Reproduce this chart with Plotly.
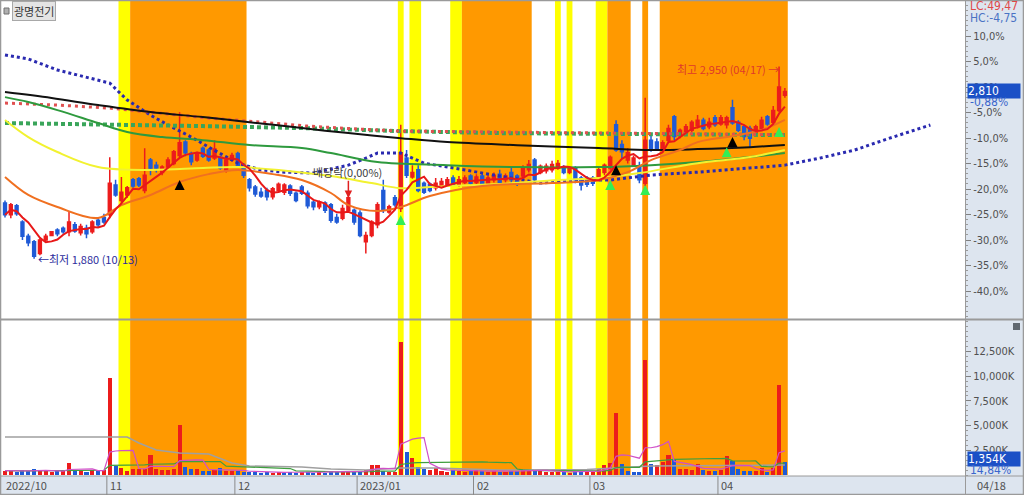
import plotly.graph_objects as go
import pandas as pd

# ---------------- data ----------------
dates = (
    ["2022-10-%02d" % d for d in [5, 6, 7, 11, 12, 13, 14, 17, 18, 19, 20, 21, 24, 25, 26, 27, 28, 31]] +
    ["2022-11-%02d" % d for d in [1, 2, 3, 4, 7, 8, 9, 10, 11, 14, 15, 16, 17, 18, 21, 22, 23, 24, 25, 28, 29, 30]] +
    ["2022-12-%02d" % d for d in [1, 2, 5, 6, 7, 8, 9, 12, 13, 14, 15, 16, 19, 20, 21, 22, 23, 26, 27, 28, 29]] +
    ["2023-01-%02d" % d for d in [2, 3, 4, 5, 6, 9, 10, 11, 12, 13, 16, 17, 18, 19, 20, 25, 26, 27, 30, 31]] +
    ["2023-02-%02d" % d for d in [1, 2, 3, 6, 7, 8, 9, 10, 13, 14, 15, 16, 17, 20, 21, 22, 23, 24, 27, 28]] +
    ["2023-03-%02d" % d for d in [2, 3, 6, 7, 8, 9, 10, 13, 14, 15, 16, 17, 20, 21, 22, 23, 24, 27, 28, 29, 30, 31]] +
    ["2023-04-%02d" % d for d in [3, 4, 5, 6, 7, 10, 11, 12, 13, 14, 17, 18]]
)

opens = [2190, 2125, 2175, 2085, 2005, 1975, 1910, 1985, 2010, 2040, 2050, 2030, 2070, 2025, 2050, 2030, 2095, 2110,
         2125, 2290, 2205, 2235, 2320, 2325, 2260, 2430, 2400, 2360, 2390, 2410, 2455, 2530, 2465, 2430, 2495, 2485, 2440, 2445, 2375, 2430,
         2465, 2400, 2320, 2280, 2250, 2260, 2225, 2260, 2250, 2285, 2245, 2280, 2245, 2195, 2170, 2190, 2180, 2110, 2105, 2150, 2150,
         2135, 1975, 2010, 2070, 2260, 2140, 2220, 2160, 2440, 2335, 2375, 2300, 2295, 2275, 2285, 2295, 2330, 2290, 2305, 2340,
         2305, 2340, 2300, 2320, 2350, 2320, 2360, 2340, 2340, 2375, 2430, 2360, 2370, 2375, 2385, 2390, 2360, 2385, 2330, 2330,
         2330, 2335, 2360, 2385, 2625, 2515, 2430, 2400, 2390, 2300, 2540, 2530, 2495, 2540, 2670, 2565, 2580, 2595, 2620, 2650, 2615, 2665,
         2630, 2625, 2720, 2640, 2615, 2605, 2580, 2605, 2670, 2640, 2705, 2790]
highs = [2205, 2190, 2185, 2095, 2020, 1985, 1995, 2020, 2035, 2050, 2060, 2140, 2085, 2075, 2070, 2095, 2110, 2130,
         2445, 2320, 2335, 2285, 2330, 2335, 2495, 2440, 2420, 2400, 2445, 2485, 2695, 2540, 2475, 2475, 2505, 2495, 2540, 2455, 2445, 2470,
         2475, 2410, 2330, 2290, 2275, 2275, 2280, 2305, 2300, 2295, 2255, 2290, 2260, 2205, 2205, 2200, 2190, 2130, 2180, 2240, 2160,
         2150, 2030, 2095, 2195, 2320, 2180, 2235, 2625, 2485, 2400, 2400, 2310, 2305, 2330, 2330, 2335, 2345, 2340, 2345, 2350,
         2350, 2355, 2345, 2360, 2375, 2355, 2385, 2350, 2400, 2430, 2440, 2405, 2410, 2425, 2430, 2400, 2395, 2395, 2340, 2340,
         2340, 2385, 2410, 2455, 2650, 2540, 2495, 2455, 2420, 2775, 2570, 2550, 2540, 2625, 2680, 2605, 2630, 2650, 2680, 2665, 2665, 2680,
         2680, 2675, 2765, 2650, 2625, 2620, 2625, 2670, 2680, 2730, 2950, 2830]
lows = [2110, 2105, 2120, 1985, 1950, 1880, 1900, 1975, 2005, 2005, 2020, 2005, 2025, 2010, 1995, 2020, 2055, 2075,
        2105, 2225, 2180, 2220, 2275, 2280, 2245, 2345, 2360, 2345, 2375, 2400, 2445, 2450, 2400, 2420, 2440, 2420, 2430, 2375, 2360, 2420,
        2385, 2330, 2255, 2225, 2220, 2205, 2210, 2250, 2235, 2230, 2195, 2235, 2160, 2150, 2155, 2135, 2080, 2075, 2095, 2140, 2070,
        2000, 1910, 2000, 2050, 2135, 2130, 2170, 2140, 2330, 2325, 2250, 2240, 2250, 2260, 2275, 2285, 2285, 2280, 2295, 2290,
        2295, 2290, 2290, 2305, 2290, 2305, 2300, 2285, 2330, 2360, 2305, 2350, 2355, 2360, 2375, 2350, 2350, 2300, 2260, 2280,
        2285, 2325, 2345, 2375, 2475, 2440, 2410, 2390, 2300, 2285, 2475, 2485, 2485, 2530, 2540, 2550, 2570, 2585, 2605, 2595, 2600, 2615,
        2620, 2605, 2625, 2585, 2540, 2500, 2570, 2595, 2620, 2630, 2695, 2775]
closes = [2125, 2180, 2130, 2005, 1970, 1895, 1985, 2005, 2030, 2020, 2030, 2085, 2035, 2060, 2020, 2085, 2070, 2085,
          2300, 2235, 2250, 2275, 2285, 2290, 2345, 2385, 2385, 2390, 2430, 2475, 2525, 2470, 2420, 2465, 2450, 2430, 2490, 2385, 2430, 2455,
          2400, 2345, 2275, 2240, 2230, 2225, 2270, 2295, 2290, 2245, 2205, 2245, 2175, 2170, 2195, 2150, 2095, 2085, 2160, 2220, 2085,
          2010, 2010, 2085, 2180, 2150, 2170, 2180, 2470, 2345, 2360, 2260, 2250, 2260, 2300, 2310, 2320, 2295, 2320, 2330, 2300,
          2335, 2300, 2330, 2345, 2305, 2340, 2320, 2295, 2385, 2405, 2320, 2395, 2395, 2405, 2410, 2360, 2385, 2320, 2290, 2295,
          2300, 2375, 2400, 2445, 2485, 2475, 2470, 2440, 2320, 2540, 2485, 2495, 2525, 2605, 2560, 2595, 2615, 2640, 2650, 2605, 2640, 2625,
          2665, 2665, 2635, 2595, 2560, 2550, 2615, 2650, 2630, 2705, 2835, 2810]
volumes_k = [450, 380, 350, 500, 420, 600, 480, 380, 350, 420, 380, 1250, 520, 400, 350, 550, 420, 480,
             9800, 900, 700, 450, 600, 650, 650, 2000, 600, 500, 550, 600, 5050, 800, 600, 650, 450, 400, 550, 700, 450, 400,
             400, 350, 300, 300, 250, 300, 250, 300, 250, 300, 250, 300, 350, 250, 300, 250, 400, 300, 350, 400, 300,
             350, 500, 1000, 1050, 450, 300, 350, 13500, 2300, 1700, 800, 600, 500, 700, 400, 350, 500, 450, 350, 400,
             500, 400, 350, 400, 300, 350, 450, 400, 600, 500, 450, 400, 350, 300, 350, 300, 250, 400, 350, 300,
             350, 600, 1000, 1200, 6300, 1100, 400, 350, 350, 11600, 1100, 1000, 1300, 2000, 1500, 600, 600, 550, 1100, 500, 450, 450,
             500, 1900, 1400, 600, 450, 400, 450, 700, 350, 700, 9100, 1354]

# moving-average / cloud lines (index, price)
ma20_idx = [0, 4, 9, 16, 20, 25, 30, 35, 40, 46, 51, 56, 59, 64, 68, 73, 82, 94, 102, 107, 111, 116, 119, 125, 130, 134]
ma20_val = [2335, 2235, 2168, 2107, 2179, 2235, 2307, 2351, 2374, 2351, 2318, 2246, 2179, 2146, 2168, 2229, 2285, 2301, 2318, 2362, 2429, 2485, 2529, 2563, 2596, 2652]
ma60_idx = [0, 4, 9, 16, 25, 34, 40, 47, 56, 63, 68, 76, 85, 95, 102, 109, 119, 128, 134]
ma60_val = [2652, 2557, 2474, 2390, 2374, 2385, 2390, 2374, 2340, 2301, 2273, 2285, 2296, 2318, 2329, 2357, 2412, 2446, 2485]
ma120_idx = [0, 4, 9, 16, 21, 27, 34, 42, 51, 56, 64, 76, 88, 102, 111, 119, 128, 134]
ma120_val = [2779, 2752, 2707, 2635, 2585, 2557, 2540, 2513, 2496, 2468, 2418, 2401, 2390, 2390, 2401, 2418, 2446, 2468]
ma240_idx = [0, 8, 16, 25, 34, 42, 51, 59, 68, 76, 88, 102, 111, 119, 128, 134]
ma240_val = [2807, 2774, 2735, 2696, 2668, 2640, 2607, 2579, 2551, 2529, 2512, 2496, 2485, 2490, 2501, 2513]
reddot_idx = [0, 9, 18, 27, 35, 44, 52, 61, 68, 85, 102, 113, 134]
reddot_val = [2746, 2735, 2718, 2690, 2663, 2640, 2618, 2601, 2590, 2585, 2579, 2574, 2570]
greendot_idx = [0, 16, 34, 51, 68, 85, 102, 119, 134]
greendot_val = [2635, 2629, 2618, 2607, 2590, 2579, 2574, 2568, 2568]
cloud_idx = [0, 4, 9, 18, 21, 25, 28, 32, 35, 40, 44, 48, 53, 59, 62, 64, 68, 72, 79, 85, 92, 99, 104, 111, 119, 128, 134, 140, 146, 152, 159]
cloud_val = [3013, 2991, 2930, 2857, 2763, 2679, 2624, 2557, 2501, 2412, 2374, 2362, 2357, 2401, 2440, 2468, 2468, 2412, 2374, 2340, 2301, 2318, 2318, 2346, 2362, 2385, 2401, 2440, 2485, 2551, 2624]
volgray_idx = [0, 21, 23, 26, 30, 35, 39, 42, 51, 56, 62, 68, 74, 85, 100, 111, 134]
volgray_val = [3850, 3850, 3240, 2530, 2230, 2130, 1210, 910, 810, 610, 510, 700, 710, 510, 550, 900, 1000]

# signal shading (first index, last index, colour)
bands = [(20, 21, "#ffff00"), (22, 41, "#ff9900"), (68, 68, "#ffff00"), (70, 71, "#ffff00"),
         (77, 78, "#ffff00"), (79, 90, "#ff9900"), (95, 95, "#ffff00"), (97, 97, "#ffff00"),
         (102, 103, "#ffff00"), (104, 107, "#ff9900"), (110, 110, "#ff9900"), (113, 134, "#ff9900")]

black_sig_idx = [30, 105, 125]
black_sig_val = [2318, 2401, 2557]
green_sig_idx = [68, 104, 110, 124, 133]
green_sig_val = [2123, 2318, 2290, 2501, 2613]

month_ticks = [(0, "2022/10"), (18, "11"), (40, "12"), (61, "2023/01"), (81, "02"), (101, "03"), (123, "04")]
base_price = 2835
pct_ticks = [10, 5, 0, -5, -10, -15, -20, -25, -30, -35, -40]
vol_ticks = [2500, 5000, 7500, 10000, 12500]

# ---------------- figure ----------------
idx = list(range(len(closes)))
W, H = 1024, 495
def py(p):
    return 1 - p / H

RED = "#ec1c1c"
BLUE = "#1f5ad6"
cl = pd.Series(closes)
ma5 = cl.rolling(5, min_periods=1).mean()
vol = pd.Series(volumes_k)
vma5 = vol.rolling(5, min_periods=1).mean()
vma20 = vol.rolling(20, min_periods=1).mean()
vcolors = [RED if i == 0 or closes[i] >= closes[i - 1] else BLUE for i in idx]

fig = go.Figure()

fig.add_trace(go.Scatter(x=cloud_idx, y=cloud_val, mode="lines", line=dict(color="#2a2ab0", width=3, dash="3px,3px"), xaxis="x", yaxis="y"))
fig.add_trace(go.Scatter(x=greendot_idx, y=greendot_val, mode="lines", line=dict(color="#3aa55a", width=4, dash="4px,3px"), xaxis="x", yaxis="y"))
fig.add_trace(go.Scatter(x=reddot_idx, y=reddot_val, mode="lines", line=dict(color="#e05050", width=3, dash="3px,4px"), xaxis="x", yaxis="y"))
fig.add_trace(go.Scatter(x=ma240_idx, y=ma240_val, mode="lines", line=dict(color="#111111", width=2, shape="spline"), xaxis="x", yaxis="y"))
fig.add_trace(go.Scatter(x=ma120_idx, y=ma120_val, mode="lines", line=dict(color="#2e9a3e", width=2, shape="spline"), xaxis="x", yaxis="y"))
fig.add_trace(go.Scatter(x=ma60_idx, y=ma60_val, mode="lines", line=dict(color="#f2f230", width=2, shape="spline"), xaxis="x", yaxis="y"))
fig.add_trace(go.Scatter(x=ma20_idx, y=ma20_val, mode="lines", line=dict(color="#f07020", width=2, shape="spline"), xaxis="x", yaxis="y"))

fig.add_trace(go.Candlestick(
    x=idx, open=opens, high=highs, low=lows, close=closes,
    increasing=dict(line=dict(color=RED, width=1.5), fillcolor=RED),
    decreasing=dict(line=dict(color=BLUE, width=1.5), fillcolor=BLUE),
    whiskerwidth=0, xaxis="x", yaxis="y"))
fig.add_trace(go.Scatter(x=idx, y=ma5, mode="lines", line=dict(color="#e81818", width=2), xaxis="x", yaxis="y"))

fig.add_trace(go.Scatter(x=black_sig_idx, y=black_sig_val, mode="markers",
                         marker=dict(symbol="arrow-up", size=10, color="#000000"), xaxis="x", yaxis="y"))
fig.add_trace(go.Scatter(x=green_sig_idx, y=green_sig_val, mode="markers",
                         marker=dict(symbol="arrow-up", size=10, color="#33ee55"), xaxis="x", yaxis="y"))

# volume
fig.add_trace(go.Bar(x=idx, y=volumes_k, marker=dict(color=vcolors, line=dict(width=0)), width=0.7, xaxis="x2", yaxis="y2"))
fig.add_trace(go.Scatter(x=volgray_idx, y=volgray_val, mode="lines", line=dict(color="#a0a0a0", width=1.5), xaxis="x2", yaxis="y2"))
fig.add_trace(go.Scatter(x=idx, y=vma20, mode="lines", line=dict(color="#3f9f3f", width=1.2), xaxis="x2", yaxis="y2"))
fig.add_trace(go.Scatter(x=idx, y=vma5, mode="lines", line=dict(color="#d050c8", width=1.2), xaxis="x2", yaxis="y2"))

xr = [-0.515, 164.95]
x_dom = [2 / W, 965 / W]
tick_font = dict(family="Liberation Sans Narrow, DejaVu Sans Condensed, sans-serif", size=11, color="#505050")

fig.update_layout(
    width=W, height=H, margin=dict(l=0, r=0, t=0, b=0),
    paper_bgcolor="white", plot_bgcolor="white", showlegend=False, bargap=0,
    xaxis=dict(domain=x_dom, range=xr, anchor="y", showticklabels=False, showgrid=False, zeroline=False,
               rangeslider=dict(visible=False), fixedrange=True),
    xaxis2=dict(domain=x_dom, range=xr, anchor="y2", matches="x", showticklabels=False, showgrid=False, zeroline=False),
    yaxis=dict(domain=[py(318), py(2)], range=[1551, 3308], side="right", anchor="x",
               tickmode="array", tickvals=[base_price * (1 + p / 100) for p in pct_ticks],
               ticktext=[("%.1f%%" % p).replace(".", ",") for p in pct_ticks],
               ticks="outside", ticklen=5, tickcolor="#808080", tickfont=tick_font,
               minor=dict(tickmode="linear", tick0=base_price, dtick=base_price / 100, ticks="outside", ticklen=2, tickcolor="#9a9a9a"),
               showgrid=False, zeroline=False),
    yaxis2=dict(domain=[py(475), py(321)], range=[0, 15587], side="right", anchor="x2",
                tickmode="array", tickvals=vol_ticks, ticktext=["{:,}K".format(v) for v in vol_ticks],
                ticks="outside", ticklen=5, tickcolor="#808080", tickfont=tick_font,
                minor=dict(tickmode="linear", tick0=0, dtick=500, ticks="outside", ticklen=2, tickcolor="#9a9a9a"),
                showgrid=False, zeroline=False),
)

shapes = []
panel_bg = "#dde5ef"
shapes.append(dict(type="rect", xref="paper", yref="paper", x0=965 / W, x1=1, y0=0, y1=1, fillcolor=panel_bg, line=dict(width=0), layer="below"))
shapes.append(dict(type="rect", xref="paper", yref="paper", x0=0, x1=1, y0=0, y1=py(476), fillcolor=panel_bg, line=dict(width=0), layer="below"))
for a, b, c in bands:
    shapes.append(dict(type="rect", xref="x", yref="paper", x0=a - 0.5, x1=b + 0.5, y0=py(475), y1=py(1),
                       fillcolor=c, line=dict(width=0), layer="below"))
# panel separators / frame
shapes.append(dict(type="line", xref="paper", yref="paper", x0=0, x1=1, y0=py(319.5), y1=py(319.5), line=dict(color="#9a9a9a", width=2)))
shapes.append(dict(type="line", xref="paper", yref="paper", x0=0, x1=1, y0=py(476), y1=py(476), line=dict(color="#9a9a9a", width=1)))
shapes.append(dict(type="line", xref="paper", yref="paper", x0=965.5 / W, x1=965.5 / W, y0=0, y1=1, line=dict(color="#9a9a9a", width=1)))
shapes.append(dict(type="rect", xref="paper", yref="paper", x0=0.0005, x1=0.9995, y0=0.001, y1=0.999, line=dict(color="#9a9a9a", width=1.5)))
# month ticks in bottom strip
for i, lab in month_ticks[1:]:
    shapes.append(dict(type="line", xref="x", yref="paper", x0=i - 0.5, x1=i - 0.5, y0=0, y1=py(476), line=dict(color="#8a8a8a", width=1)))
# small icons
shapes.append(dict(type="rect", xref="paper", yref="paper", x0=4 / W, x1=9 / W, y0=py(14), y1=py(8), fillcolor="#b0b0b0", line=dict(color="#707070", width=1)))
shapes.append(dict(type="rect", xref="paper", yref="paper", x0=1013 / W, x1=1020 / W, y0=py(330), y1=py(323), fillcolor="#606870", line=dict(width=0)))
fig.update_layout(shapes=shapes)

ann = []
kfont = "Noto Sans CJK KR, sans-serif"
for i, lab in month_ticks:
    xpos = max(i - 0.5, -0.3)
    ann.append(dict(x=xpos, xref="x", y=py(485), yref="paper", text=lab, showarrow=False, xanchor="left", yanchor="middle",
                    xshift=1, font=dict(family=kfont, size=11, color="#505050")))
ann.append(dict(x=975 / W, xref="paper", y=py(485), yref="paper", text="04/18", showarrow=False, xanchor="left", yanchor="middle",
                font=dict(family=kfont, size=11, color="#505050")))
ann.append(dict(x=12 / W, xref="paper", y=py(10.5), yref="paper", text="광명전기", showarrow=False, xanchor="left", yanchor="middle",
                bgcolor="#e4e4e4", bordercolor="#a8a8a8", borderwidth=1, borderpad=1, font=dict(family=kfont, size=11, color="#333333")))
ann.append(dict(x=5.3, xref="x", y=1880, yref="y", text="←최저 1,880 (10/13)", showarrow=False, xanchor="left", yanchor="middle",
                font=dict(family=kfont, size=11, color="#2c2c9c")))
ann.append(dict(x=133.3, xref="x", y=2935, yref="y", text="최고 2,950 (04/17) →", showarrow=False, xanchor="right", yanchor="middle",
                font=dict(family=kfont, size=11, color="#e03a2a")))
ann.append(dict(x=58.8, xref="x", y=2362, yref="y", text="배당락(0,00%)", showarrow=False, xanchor="center", yanchor="middle",
                font=dict(family=kfont, size=11, color="#404040")))
ann.append(dict(x=59, xref="x", y=2218, yref="y", ax=59, axref="x", ay=2323, ayref="y", text="", showarrow=True,
                arrowhead=2, arrowsize=1, arrowwidth=1.5, arrowcolor="#e02020"))
# right panel labels
rfont = "Liberation Sans Narrow, DejaVu Sans Condensed, sans-serif"
def rlab(ypix, text, color, bg=None):
    d = dict(x=968 / W, xref="paper", y=py(ypix), yref="paper", text=text, showarrow=False, xanchor="left", yanchor="middle",
             font=dict(family=rfont, size=12, color=color))
    if bg:
        d.update(bgcolor=bg, width=52, align="left", borderpad=0, x=967 / W)
    return d
ann.append(rlab(6, "LC:49,47", "#e04848"))
ann.append(rlab(18, "HC:-4,75", "#4a72c4"))
ann.append(rlab(91, "2,810", "#ffffff", "#1b50c6"))
ann.append(rlab(102, "-0,88%", "#3a66cc"))
ann.append(rlab(459, "1,354K", "#ffffff", "#1b50c6"))
ann.append(rlab(470, "14,84%", "#3a66cc"))
fig.update_layout(annotations=ann)

fig.write_html("out.html", config={"displayModeBar": False},
               post_script="document.body.style.margin='0';document.body.style.overflow='hidden';")
